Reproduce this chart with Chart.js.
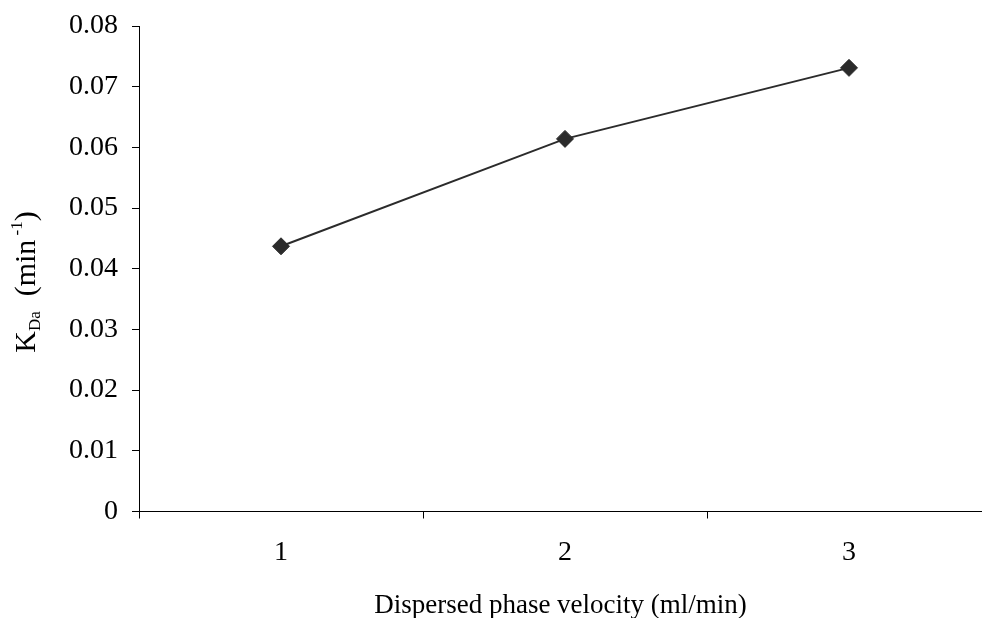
<!DOCTYPE html>
<html>
<head>
<meta charset="utf-8">
<script src="https://cdn.jsdelivr.net/npm/chart.js@4/dist/chart.umd.min.js"></script>
<style>
html,body{margin:0;padding:0;background:#fff;overflow:hidden;width:982px;height:618px;}
canvas{display:block;}
</style>
</head>
<body>
<canvas id="c" width="982" height="618"></canvas>
<script>
const categories = [1, 2, 3];
const kdaValues = [0.0437, 0.0614, 0.0731];
const yTicks = [0, 0.01, 0.02, 0.03, 0.04, 0.05, 0.06, 0.07, 0.08];
const xTitle = "Dispersed phase velocity (ml/min)";

const FONT = '"Liberation Serif", "Times New Roman", serif';

const yTitlePlugin = {
  id: 'yTitle',
  afterDraw(chart) {
    const ctx = chart.ctx;
    ctx.save();
    ctx.translate(35, 282);
    ctx.rotate(-Math.PI / 2);
    ctx.fillStyle = '#000';
    ctx.textBaseline = 'alphabetic';
    const parts = [
      {t: 'K', size: 30, dy: 0},
      {t: 'Da', size: 17, dy: 5},
      {t: '  (min', size: 30, dy: 0},
      {t: ' -1', size: 17, dy: -13},
      {t: ')', size: 30, dy: 0}
    ];
    let total = 0;
    parts.forEach(p => { ctx.font = p.size + 'px ' + FONT; p.w = ctx.measureText(p.t).width; total += p.w; });
    let x = -total / 2;
    parts.forEach(p => { ctx.font = p.size + 'px ' + FONT; ctx.fillText(p.t, x, p.dy); x += p.w; });
    ctx.restore();
  }
};

const xMin = categories[0] - 0.5;
const xMax = categories[0] - 0.5 + 843 / 284;

new Chart(document.getElementById('c'), {
  type: 'line',
  data: {
    datasets: [{
      data: categories.map((c, i) => ({x: c, y: kdaValues[i]})),
      borderColor: '#2b2b2b',
      backgroundColor: '#2b2b2b',
      borderWidth: 2,
      pointStyle: 'rectRot',
      pointRadius: 8.5,
      pointHoverRadius: 8.5,
      pointBorderWidth: 1,
      tension: 0,
      fill: false,
      clip: false
    }]
  },
  options: {
    responsive: false,
    devicePixelRatio: 1,
    animation: false,
    layout: {autoPadding: false, padding: {top: 26, right: 0, left: 0, bottom: 0}},
    plugins: {legend: {display: false}, tooltip: {enabled: false}},
    scales: {
      x: {
        type: 'linear',
        min: xMin, max: xMax,
        afterBuildTicks(s) {
          const t = [];
          categories.forEach(c => { t.push({value: c - 0.5}); t.push({value: c}); });
          t.push({value: xMax});
          s.ticks = t;
        },
        grid: {drawOnChartArea: false, drawTicks: true, tickLength: 7,
          color: ctx => (ctx.tick && (Number.isInteger(ctx.tick.value) || ctx.tick.value === xMax)) ? 'rgba(0,0,0,0)' : '#000'},
        border: {display: true, color: '#000', width: 1},
        ticks: {color: '#000', font: {family: FONT, size: 28}, padding: 17, maxRotation: 0, autoSkip: false,
          callback: v => Number.isInteger(v) ? String(v) : ''},
        title: {display: true, text: xTitle, color: '#000', font: {family: FONT, size: 27, lineHeight: 0.9}, padding: {top: 10, bottom: 0}},
        afterFit(s) { s.height = 106.5; s.paddingLeft = 0; s.paddingRight = 0; }
      },
      y: {
        min: 0, max: 0.08,
        afterBuildTicks(s) { s.ticks = yTicks.map(v => ({value: v})); },
        grid: {drawOnChartArea: false, drawTicks: true, tickLength: 7, color: '#000'},
        border: {display: true, color: '#000', width: 1},
        ticks: {color: '#000', font: {family: FONT, size: 28}, padding: 14,
          callback: v => v === 0 ? '0' : v.toFixed(2)},
        afterFit(s) { s.width = 139; s.paddingTop = 0; s.paddingBottom = 0; }
      }
    }
  },
  plugins: [yTitlePlugin]
});
</script>
</body>
</html>
